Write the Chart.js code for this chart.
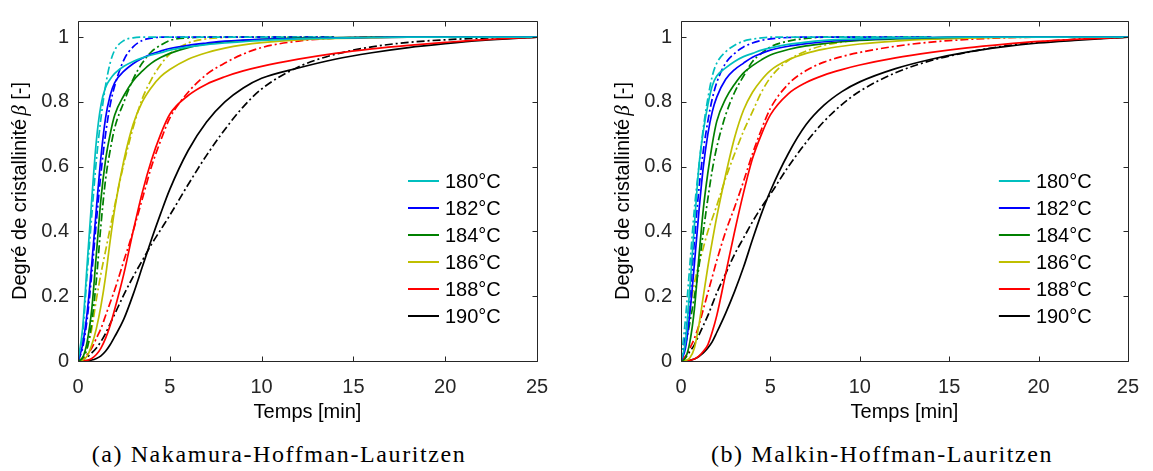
<!DOCTYPE html>
<html>
<head>
<meta charset="utf-8">
<script src="https://cdn.jsdelivr.net/npm/chart.js@4.4.1/dist/chart.umd.min.js"></script>
<style>
  body { margin: 0; background: #fff; width: 1153px; height: 471px; overflow: hidden; position: relative; }
  .panel { position: absolute; top: 0; }
  .caption { position: absolute; top: 441px; font-family: "Liberation Serif", serif; font-size: 24px; color: #000; white-space: nowrap; letter-spacing: 1.6px; transform: translateX(-50%); }
</style>
</head>
<body>
<div class="panel" style="left:0px"><canvas id="chartA" width="576" height="430" style="width:576px;height:430px"></canvas></div>
<div class="panel" style="left:603px"><canvas id="chartB" width="550" height="430" style="width:550px;height:430px"></canvas></div>
<div class="caption" style="left:279px">(a) Nakamura-Hoffman-Lauritzen</div>
<div class="caption" style="left:882px">(b) Malkin-Hoffman-Lauritzen</div>
<script>
// time axis (min)
const timeMin = [0, 0.25, 0.5, 0.75, 1, 1.25, 1.5, 1.75, 2, 2.5, 3, 3.5, 4, 4.5, 5, 6, 7, 8, 9, 10, 12, 14, 16, 18, 20, 22, 25];
const tempLabels = ['180°C', '182°C', '184°C', '186°C', '188°C', '190°C'];

// (a) Nakamura-Hoffman-Lauritzen : model (solid) and measured (dash-dot)
const nakModel180 = [0, 0.1, 0.3, 0.5, 0.68, 0.79, 0.845, 0.87, 0.888, 0.91, 0.925, 0.936, 0.945, 0.952, 0.96, 0.97, 0.977, 0.982, 0.986, 0.99, 0.995, 0.997, 0.999, 1, 1, 1, 1];
const nakExp180   = [0, 0.08, 0.27, 0.45, 0.62, 0.75, 0.85, 0.92, 0.96, 0.99, 0.998, 1, 1, 1, 1, 1, 1, 1, 1, 1, 1, 1, null, null, null, null, null];
const nakModel182 = [0, 0.05, 0.15, 0.3, 0.47, 0.63, 0.75, 0.82, 0.86, 0.895, 0.918, 0.935, 0.948, 0.957, 0.965, 0.975, 0.982, 0.988, 0.991, 0.993, 0.996, 0.998, 0.999, 1, 1, 1, 1];
const nakExp182   = [0, 0.04, 0.13, 0.27, 0.43, 0.58, 0.7, 0.79, 0.85, 0.93, 0.97, 0.99, 0.997, 1, 1, 1, 1, 1, 1, 1, 1, 1, null, null, null, null, null];
const nakModel184 = [0, 0.01, 0.06, 0.16, 0.33, 0.5, 0.62, 0.7, 0.76, 0.82, 0.865, 0.895, 0.92, 0.937, 0.95, 0.968, 0.979, 0.986, 0.99, 0.993, 0.997, 0.999, 1, 1, 1, 1, 1];
const nakExp184   = [0, 0.01, 0.04, 0.12, 0.25, 0.42, 0.56, 0.65, 0.72, 0.8, 0.87, 0.92, 0.955, 0.975, 0.99, 0.998, 1, 1, 1, 1, 1, 1, null, null, null, null, null];
const nakModel186 = [0, 0.003, 0.015, 0.05, 0.1, 0.17, 0.26, 0.37, 0.47, 0.62, 0.73, 0.8, 0.845, 0.878, 0.9, 0.932, 0.952, 0.966, 0.976, 0.983, 0.992, 0.996, 0.998, 1, 1, 1, 1];
const nakExp186   = [0, 0.01, 0.04, 0.1, 0.19, 0.27, 0.34, 0.41, 0.48, 0.61, 0.72, 0.81, 0.87, 0.915, 0.948, 0.982, 0.995, 0.999, 1, 1, 1, 1, null, null, null, null, null];
const nakModel188 = [0, 0, 0.002, 0.008, 0.02, 0.04, 0.07, 0.11, 0.16, 0.27, 0.4, 0.52, 0.62, 0.7, 0.762, 0.82, 0.855, 0.878, 0.896, 0.91, 0.932, 0.95, 0.964, 0.975, 0.984, 0.992, 1];
const nakExp188   = [0, 0.005, 0.02, 0.04, 0.07, 0.1, 0.14, 0.18, 0.22, 0.31, 0.4, 0.5, 0.6, 0.68, 0.75, 0.83, 0.885, 0.92, 0.948, 0.968, 0.988, 0.997, 1, 1, 1, 1, 1];
const nakModel190 = [0, 0, 0.001, 0.003, 0.008, 0.016, 0.03, 0.05, 0.075, 0.13, 0.205, 0.29, 0.375, 0.455, 0.53, 0.65, 0.738, 0.8, 0.843, 0.873, 0.905, 0.932, 0.952, 0.968, 0.98, 0.99, 1];
const nakExp190   = [0, 0.005, 0.012, 0.025, 0.04, 0.06, 0.085, 0.115, 0.145, 0.205, 0.26, 0.31, 0.36, 0.405, 0.45, 0.545, 0.635, 0.715, 0.785, 0.84, 0.908, 0.947, 0.97, 0.984, 0.992, 0.997, 1];

// (b) Malkin-Hoffman-Lauritzen
const malModel180 = [0, 0.06, 0.23, 0.42, 0.6, 0.71, 0.79, 0.85, 0.88, 0.905, 0.925, 0.94, 0.95, 0.96, 0.967, 0.978, 0.985, 0.99, 0.993, 0.995, 0.998, 0.999, 1, 1, 1, 1, 1];
const malExp180   = [0, 0.13, 0.3, 0.47, 0.6, 0.72, 0.81, 0.88, 0.92, 0.955, 0.975, 0.988, 0.994, 0.998, 1, 1, 1, 1, 1, 1, 1, 1, null, null, null, null, null];
const malModel182 = [0, 0.04, 0.15, 0.3, 0.46, 0.6, 0.7, 0.77, 0.815, 0.87, 0.9, 0.92, 0.938, 0.95, 0.96, 0.972, 0.98, 0.986, 0.99, 0.993, 0.997, 0.999, 1, 1, 1, 1, 1];
const malExp182   = [0, 0.08, 0.2, 0.37, 0.53, 0.65, 0.74, 0.81, 0.86, 0.92, 0.95, 0.97, 0.982, 0.99, 0.995, 0.999, 1, 1, 1, 1, 1, 1, null, null, null, null, null];
const malModel184 = [0, 0.01, 0.06, 0.16, 0.32, 0.47, 0.58, 0.67, 0.74, 0.81, 0.855, 0.89, 0.912, 0.93, 0.945, 0.962, 0.973, 0.98, 0.986, 0.99, 0.995, 0.998, 1, 1, 1, 1, 1];
const malExp184   = [0, 0.05, 0.12, 0.2, 0.29, 0.4, 0.5, 0.59, 0.66, 0.76, 0.83, 0.88, 0.925, 0.95, 0.97, 0.988, 0.996, 1, 1, 1, 1, 1, null, null, null, null, null];
const malModel186 = [0, 0.002, 0.01, 0.04, 0.11, 0.2, 0.29, 0.37, 0.445, 0.575, 0.69, 0.775, 0.83, 0.868, 0.897, 0.93, 0.95, 0.963, 0.972, 0.979, 0.988, 0.994, 0.997, 0.999, 1, 1, 1];
const malExp186   = [0, 0.07, 0.16, 0.24, 0.3, 0.35, 0.4, 0.44, 0.48, 0.565, 0.64, 0.71, 0.77, 0.83, 0.875, 0.928, 0.957, 0.975, 0.985, 0.992, 0.998, 1, null, null, null, null, null];
const malModel188 = [0, 0, 0.002, 0.006, 0.015, 0.03, 0.05, 0.09, 0.14, 0.27, 0.4, 0.52, 0.625, 0.7, 0.76, 0.825, 0.86, 0.883, 0.9, 0.914, 0.936, 0.953, 0.967, 0.978, 0.987, 0.993, 1];
const malExp188   = [0, 0.015, 0.04, 0.07, 0.11, 0.16, 0.21, 0.26, 0.31, 0.4, 0.475, 0.555, 0.64, 0.715, 0.78, 0.855, 0.897, 0.923, 0.94, 0.953, 0.972, 0.985, 0.993, 0.998, 1, 1, 1];
const malModel190 = [0, 0, 0.002, 0.006, 0.014, 0.025, 0.04, 0.06, 0.088, 0.148, 0.215, 0.29, 0.375, 0.455, 0.525, 0.64, 0.73, 0.79, 0.832, 0.862, 0.903, 0.932, 0.954, 0.97, 0.982, 0.99, 1];
const malExp190   = [0, 0.01, 0.03, 0.05, 0.08, 0.11, 0.14, 0.175, 0.21, 0.27, 0.33, 0.38, 0.43, 0.475, 0.515, 0.6, 0.675, 0.74, 0.792, 0.833, 0.89, 0.928, 0.953, 0.972, 0.985, 0.993, 1];

const nakModels = [nakModel180, nakModel182, nakModel184, nakModel186, nakModel188, nakModel190];
const nakExps   = [nakExp180, nakExp182, nakExp184, nakExp186, nakExp188, nakExp190];
const malModels = [malModel180, malModel182, malModel184, malModel186, malModel188, malModel190];
const malExps   = [malExp180, malExp182, malExp184, malExp186, malExp188, malExp190];

const lineColors = ['#00bfbf', '#0000ff', '#008000', '#bfbf00', '#ff0000', '#000000'];
const axisColor = '#262626';
const sans = 'Liberation Sans, Arial, sans-serif';

function toPoints(values) {
  const pts = [];
  values.forEach((v, i) => {
    if (v !== null) pts.push({ x: timeMin[i], y: v });
  });
  return pts;
}

function buildDatasets(models, exps) {
  const sets = [];
  models.forEach((m, i) => {
    sets.push({ label: tempLabels[i], data: toPoints(m), borderColor: lineColors[i], borderWidth: 1.7,
      pointRadius: 0, cubicInterpolationMode: 'monotone', fill: false, isModel: true });
  });
  exps.forEach((e, i) => {
    sets.push({ label: tempLabels[i] + ' exp', data: toPoints(e), borderColor: lineColors[i], borderWidth: 1.7,
      borderDash: [8, 3, 2, 3], pointRadius: 0, cubicInterpolationMode: 'monotone', fill: false });
  });
  return sets;
}

// matlab-like box, inward ticks, inside legend and the y title with an italic beta
const frame = {
  id: 'frame',
  afterDatasetsDraw(chart) {
    const { ctx, chartArea: a, scales: { x, y } } = chart;
    ctx.save();
    ctx.strokeStyle = axisColor;
    ctx.lineWidth = 1;
    const L = Math.round(a.left) + 0.5, R = Math.round(a.right) + 0.5;
    const T = Math.round(a.top) + 0.5, B = Math.round(a.bottom) + 0.5;
    ctx.beginPath();
    ctx.rect(L, T, R - L, B - T);
    x.ticks.forEach(t => {
      const px = Math.round(x.getPixelForValue(t.value)) + 0.5;
      ctx.moveTo(px, B); ctx.lineTo(px, B - 5);
      ctx.moveTo(px, T); ctx.lineTo(px, T + 5);
    });
    y.ticks.forEach(t => {
      const py = Math.round(y.getPixelForValue(t.value)) + 0.5;
      ctx.moveTo(L, py); ctx.lineTo(L + 5, py);
      ctx.moveTo(R, py); ctx.lineTo(R - 5, py);
    });
    ctx.stroke();

    // legend (model curves only)
    ctx.font = '20px ' + sans;
    ctx.textBaseline = 'middle';
    ctx.fillStyle = '#000';
    chart.data.datasets.filter(d => d.isModel).forEach((d, i) => {
      const ly = 181 + i * 27;
      ctx.strokeStyle = d.borderColor;
      ctx.lineWidth = 2;
      ctx.beginPath();
      ctx.moveTo(a.right - 129, ly);
      ctx.lineTo(a.right - 98, ly);
      ctx.stroke();
      ctx.fillText(d.label, a.right - 92, ly + 1);
    });

    // y axis title
    const parts = [
      { text: 'Degré de cristallinité', font: '20px ' + sans },
      { text: 'β', font: 'italic 21px "Liberation Serif", serif' },
      { text: ' [-]', font: '20px ' + sans }
    ];
    let total = 0;
    parts.forEach(p => { ctx.font = p.font; p.w = ctx.measureText(p.text).width; total += p.w; });
    total += 3;
    ctx.translate(20, (a.top + a.bottom) / 2);
    ctx.rotate(-Math.PI / 2);
    ctx.fillStyle = '#000';
    let cx = -total / 2;
    parts.forEach((p, i) => {
      ctx.font = p.font;
      ctx.fillText(p.text, cx, 0);
      cx += p.w + (i === 0 ? 3 : 0);
    });
    ctx.restore();
  }
};

function makeChart(id, models, exps, rightPad) {
  return new Chart(document.getElementById(id), {
    type: 'line',
    data: { datasets: buildDatasets(models, exps) },
    options: {
      responsive: false,
      animation: false,
      devicePixelRatio: 1,
      layout: { padding: { top: 13, right: rightPad, left: 0, bottom: 0 } },
      plugins: { legend: { display: false }, tooltip: { enabled: false } },
      scales: {
        x: {
          type: 'linear', min: 0, max: 25,
          ticks: { stepSize: 5, includeBounds: false, maxRotation: 0, padding: 14, color: axisColor, font: { family: sans, size: 20 } },
          grid: { display: false, drawTicks: false },
          border: { display: false },
          title: { display: true, text: 'Temps [min]', color: '#000', font: { family: sans, size: 20 }, padding: { top: 0, bottom: 6 } },
          afterFit: s => { s.height = 69; }
        },
        y: {
          type: 'linear', min: 0, max: 1.05,
          ticks: { stepSize: 0.2, includeBounds: false, padding: 9, color: axisColor, font: { family: sans, size: 20 },
            callback: v => String(Number(v.toFixed(1))) },
          grid: { display: false, drawTicks: false },
          border: { display: false },
          afterFit: s => { s.width = 78; }
        }
      }
    },
    plugins: [frame]
  });
}

makeChart('chartA', nakModels, nakExps, 39);
makeChart('chartB', malModels, malExps, 14);
</script>
</body>
</html>
